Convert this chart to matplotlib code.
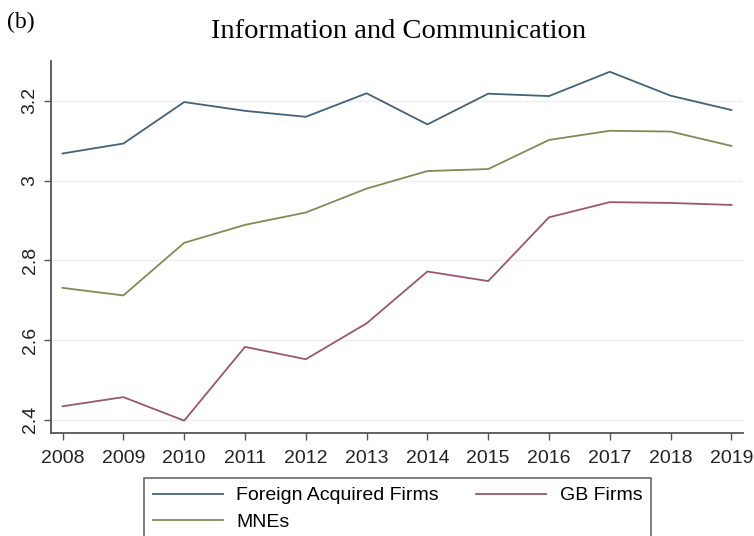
import matplotlib.pyplot as plt

years = [2008, 2009, 2010, 2011, 2012, 2013, 2014, 2015, 2016, 2017, 2018, 2019]
foreign_acquired = [3.068, 3.093, 3.197, 3.175, 3.160, 3.219, 3.141, 3.218, 3.212, 3.273, 3.213, 3.177]
gb_firms = [2.434, 2.457, 2.398, 2.583, 2.552, 2.642, 2.772, 2.748, 2.908, 2.946, 2.944, 2.939]
mnes = [2.731, 2.712, 2.844, 2.889, 2.920, 2.980, 3.024, 3.029, 3.102, 3.125, 3.123, 3.087]
y_ticks = [2.4, 2.6, 2.8, 3.0, 3.2]
y_tick_labels = ['2.4', '2.6', '2.8', '3', '3.2']

plt.rcParams['font.family'] = ['Liberation Sans', 'DejaVu Sans']

fig = plt.figure(figsize=(7.54, 5.36), dpi=100)
ax = fig.add_axes([51 / 754, 1 - 433 / 536, (743 - 51) / 754, (433 - 61) / 536])

l_foreign, = ax.plot(years, foreign_acquired, color='#44617a', lw=1.3, label='Foreign Acquired Firms')
l_gb, = ax.plot(years, gb_firms, color='#9a5868', lw=1.3, label='GB Firms')
l_mne, = ax.plot(years, mnes, color='#7f8c55', lw=1.3, label='MNEs')

ax.set_xlim(2007.81, 2019.19)
ax.set_ylim(2.367, 3.30)
ax.set_xticks(years)
ax.set_yticks(y_ticks)
ax.set_yticklabels(y_tick_labels, rotation=90, va='center')

ax.grid(axis='y', color='#eeeeee', lw=1.0)
ax.set_axisbelow(True)
for side in ['top', 'right']:
    ax.spines[side].set_visible(False)
for side in ['left', 'bottom']:
    ax.spines[side].set_color('#555555')
    ax.spines[side].set_linewidth(1.3)
ax.tick_params(axis='both', colors='#555555', labelcolor='#222222', labelsize=14,
               width=1.0, length=5)
ax.tick_params(axis='x', pad=7)
ax.tick_params(axis='y', pad=4)

fig.text(399 / 754, 1 - 31 / 536, 'Information and Communication',
         family='Liberation Serif', fontsize=20.5, ha='center', va='center')
fig.text(7 / 754, 1 - 22 / 536, '(b)', family='Liberation Serif', fontsize=17,
         ha='left', va='center')

# column-wise fill: Foreign + MNEs in the first column, GB Firms in the second
leg = fig.legend([l_foreign, l_mne, l_gb], ['Foreign Acquired Firms', 'MNEs', 'GB Firms'],
                 loc='upper left', bbox_to_anchor=(144 / 754, 1 - 478 / 536), ncol=2,
                 fontsize=14, frameon=True, fancybox=False, handlelength=3.6,
                 handletextpad=0.7, columnspacing=1.9, labelspacing=0.45,
                 borderpad=0.45, borderaxespad=0)
leg.get_frame().set_edgecolor('#444444')
leg.get_frame().set_linewidth(1.2)

fig.savefig('out.png', dpi=100)
